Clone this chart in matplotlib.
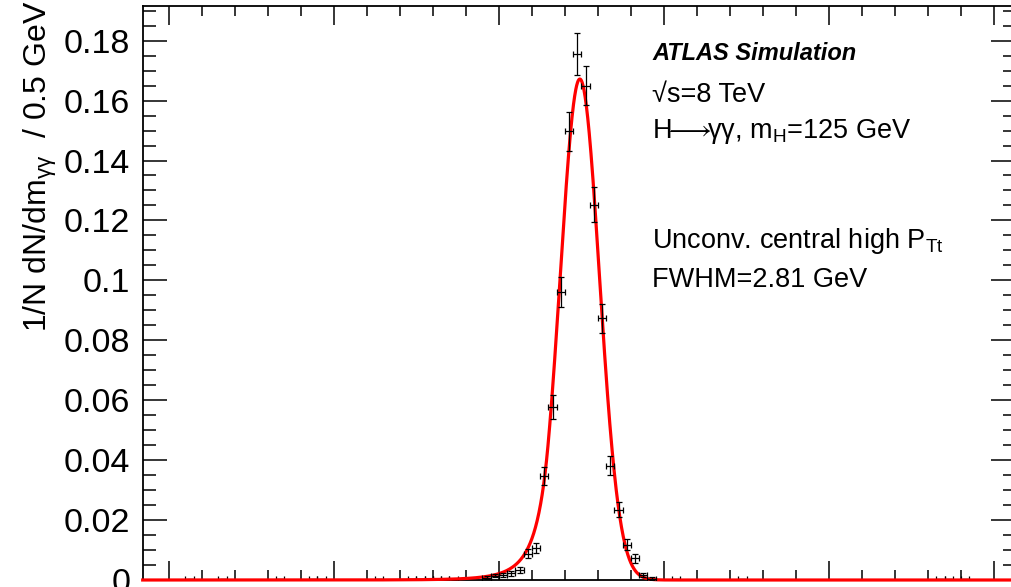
import numpy as np
import matplotlib
matplotlib.use("Agg")
import matplotlib.pyplot as plt
from matplotlib.ticker import MultipleLocator

# ---------------- data ----------------
mass = [119.25, 119.75, 120.25, 120.75, 121.25, 121.75, 122.25, 122.75, 123.25,
        123.75, 124.25, 124.75, 125.25, 125.75, 126.25, 126.75, 127.25, 127.75,
        128.25, 128.75, 129.25]
density = [0.0008, 0.0015, 0.0018, 0.0023, 0.0033, 0.0088, 0.0108, 0.0347, 0.0577,
           0.0960, 0.1497, 0.1756, 0.1650, 0.1253, 0.0873, 0.0382, 0.0235, 0.0118,
           0.0072, 0.0017, 0.0005]
density_err = [0.0005, 0.0006, 0.0007, 0.0008, 0.0009, 0.0015, 0.0017, 0.0031, 0.0040,
               0.0050, 0.0065, 0.0069, 0.0066, 0.0058, 0.0049, 0.0032, 0.0025, 0.0018,
               0.0014, 0.0007, 0.0004]

# sparse far-tail bins with (almost) empty content
tail_mass = [101.25, 103.25, 106.75, 108.75, 109.25, 112.75, 114.75, 115.25,
             115.75, 116.25, 116.75, 117.25, 130.75, 134.75, 146.75, 147.25, 148.25]
tail_density = [0.0002] * 17
tail_err = [0.0002] * 17
bin_half_width = 0.25

# Crystal Ball fit parameters
fit_peak = 0.1672
fit_mu = 124.90
fit_sigma = 1.19
fit_alpha = 1.6
fit_n = 6.0

xlim = (98.41, 151.24)
ylim = (0.0, 0.1917)

texts = ["ATLAS Simulation", "√s=8 TeV", r"H$\!\!{\longrightarrow}\!\!$γγ, m$_{H}$=125 GeV",
         "Unconv. central high P$_{Tt}$", "FWHM=2.81 GeV"]
ylabel = "1/N dN/dm$_{γγ}$  / 0.5 GeV"


def crystal_ball(x, peak, mu, sigma, alpha, n):
    t = (x - mu) / sigma
    out = np.exp(-0.5 * t ** 2)
    A = (n / alpha) ** n * np.exp(-0.5 * alpha ** 2)
    B = n / alpha - alpha
    m = t < -alpha
    out[m] = A * (B - t[m]) ** (-n)
    return peak * out


# ---------------- plot ----------------
plt.rcParams['font.family'] = ['Liberation Sans', 'DejaVu Sans']
plt.rcParams['mathtext.default'] = 'regular'

W, H = 1011, 587
fig = plt.figure(figsize=(W / 100, H / 100), dpi=100)
x0, x1 = 142.7, 1014.5
yt, yb = 5.6, 580.0
ax = fig.add_axes([x0 / W, (H - yb) / H, (x1 - x0) / W, (yb - yt) / H])

ax.set_xlim(*xlim)
ax.set_ylim(*ylim)

xf = np.linspace(xlim[0], xlim[1], 3000)
ax.plot(xf, crystal_ball(xf, fit_peak, fit_mu, fit_sigma, fit_alpha, fit_n),
        color='#ff0000', lw=2.3, zorder=3, clip_on=False)

ax.errorbar(mass, density, yerr=density_err,
            xerr=[bin_half_width] * len(mass), fmt='none', ecolor='black',
            elinewidth=0.9, capsize=2.2, capthick=0.9, zorder=4)
ax.errorbar(tail_mass, tail_density, yerr=tail_err,
            xerr=[bin_half_width] * len(tail_mass), fmt='none', ecolor='black',
            elinewidth=0.9, capsize=2.2, capthick=0.9, zorder=2)

for s in ax.spines.values():
    s.set_linewidth(1.3)

ax.xaxis.set_major_locator(MultipleLocator(10))
ax.xaxis.set_minor_locator(MultipleLocator(2))
ax.yaxis.set_major_locator(MultipleLocator(0.02))
ax.yaxis.set_minor_locator(MultipleLocator(0.005))
ax.tick_params(axis='both', which='both', direction='in', top=True, right=True,
               width=1.1, labelsize=24.5, color='black')
ax.tick_params(axis='x', which='both', labelbottom=False)
ax.tick_params(axis='y', which='major', length=17, pad=9)
ax.tick_params(axis='y', which='minor', length=9)
ax.tick_params(axis='x', which='major', length=14)
ax.tick_params(axis='x', which='minor', length=7)
ax.yaxis.set_major_formatter(matplotlib.ticker.FuncFormatter(
    lambda v, p: '0' if abs(v) < 1e-9 else ('%g' % v)))

tx = 652 / W
fig.text(tx, 1 - 60 / H, texts[0], fontsize=17, fontweight='bold',
         fontstyle='italic', va='baseline', ha='left')
fig.text(tx, 1 - 101.7 / H, texts[1], fontsize=19.5, va='baseline', ha='left')
fig.text(tx, 1 - 138.3 / H, texts[2], fontsize=19.5, va='baseline', ha='left')
fig.text(tx, 1 - 248.3 / H, texts[3], fontsize=19.5, va='baseline', ha='left')
fig.text(tx, 1 - 286.7 / H, texts[4], fontsize=19.5, va='baseline', ha='left')

fig.text(40 / W, 1 - 1 / H, ylabel, fontsize=23, rotation=90,
         ha='center', va='top')

fig.savefig('out.png', dpi=100)
